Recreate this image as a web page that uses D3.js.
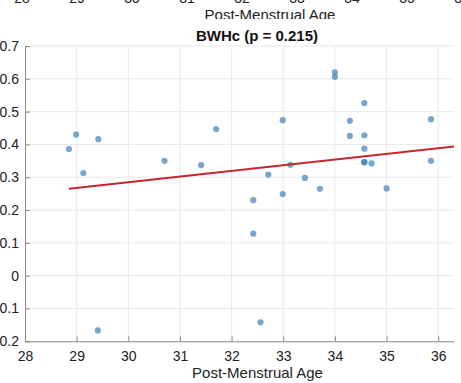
<!DOCTYPE html>
<html>
<head>
<meta charset="utf-8">
<script src="https://cdn.jsdelivr.net/npm/d3@7"></script>
<style>
  html, body { margin: 0; padding: 0; background: #fff; }
  svg { display: block; font-family: "Liberation Sans", Arial, Helvetica, sans-serif; }
</style>
</head>
<body>
<script>
// Post-menstrual age (weeks) and BWHc value for each subject
const ageValues = [
  28.85, 28.99, 29.13, 29.42, 29.41, 30.70, 31.41, 31.70,
  32.42, 32.42, 32.56, 32.71, 32.99, 32.99, 33.14, 33.42, 33.71,
  34.00, 34.00, 34.29, 34.29, 34.57, 34.57, 34.57, 34.57, 34.57, 34.71,
  35.00, 35.86, 35.86
];
const bwhcValues = [
  0.386, 0.430, 0.313, 0.416, -0.167, 0.350, 0.337, 0.447,
  0.230, 0.128, -0.142, 0.308, 0.474, 0.249, 0.338, 0.298, 0.265,
  0.620, 0.606, 0.472, 0.426, 0.526, 0.428, 0.387, 0.346, 0.346, 0.342,
  0.266, 0.477, 0.350
];

// Least-squares fit line endpoints
const fitAge = [28.85, 37];
const fitBwhc = [0.265, 0.406];

const xTicks = [28, 29, 30, 31, 32, 33, 34, 35, 36];
const yTicks = [-0.2, -0.1, 0, 0.1, 0.2, 0.3, 0.4, 0.5, 0.6, 0.7];
const chartTitle = "BWHc (p = 0.215)";
const xLabel = "Post-Menstrual Age";

const W = 461, H = 383;
const svg = d3.select("body").append("svg").attr("width", W).attr("height", H);

// ---- bottom strip of the panel above (its x tick labels and axis label) ----
svg.append("clipPath").attr("id", "upperClip")
  .append("rect").attr("x", 0).attr("y", 0).attr("width", W).attr("height", 19);
const upper = svg.append("g").attr("clip-path", "url(#upperClip)");
const xUpper = d3.scaleLinear().domain([28, 37]).range([22, 517]);
upper.selectAll("text.tick").data(xTicks).join("text")
  .attr("class", "tick")
  .attr("x", d => xUpper(d)).attr("y", 3)
  .attr("text-anchor", "middle")
  .attr("font-size", 14).attr("fill", "#222")
  .text(d => d);
upper.append("text")
  .attr("x", 270).attr("y", 19.5)
  .attr("text-anchor", "middle")
  .attr("font-size", 15).attr("fill", "#222")
  .text(xLabel);

// ---- main panel ----
const plotLeft = 25, plotTop = 46, plotBottom = 341.3, plotRight = 454;
const x = d3.scaleLinear().domain([28, 37]).range([plotLeft, plotLeft + 9 * 51.65]);
const y = d3.scaleLinear().domain([-0.2, 0.7]).range([plotBottom, plotTop]);

svg.append("clipPath").attr("id", "plotClip")
  .append("rect").attr("x", plotLeft).attr("y", plotTop - 2)
  .attr("width", plotRight - plotLeft).attr("height", plotBottom - plotTop + 4);

const plot = svg.append("g").attr("clip-path", "url(#plotClip)");

// grid
plot.selectAll("line.vgrid").data(xTicks).join("line")
  .attr("class", "vgrid")
  .attr("x1", d => x(d)).attr("x2", d => x(d))
  .attr("y1", plotTop).attr("y2", plotBottom)
  .attr("stroke", "#e9e9e9").attr("stroke-width", 1);
plot.selectAll("line.hgrid").data(yTicks).join("line")
  .attr("class", "hgrid")
  .attr("x1", plotLeft).attr("x2", plotRight)
  .attr("y1", d => y(d)).attr("y2", d => y(d))
  .attr("stroke", "#e9e9e9").attr("stroke-width", 1);

// scatter points
const pts = ageValues.map((a, i) => ({ age: a, v: bwhcValues[i] }));
plot.selectAll("circle").data(pts).join("circle")
  .attr("cx", d => x(d.age)).attr("cy", d => y(d.v))
  .attr("r", 3.1)
  .attr("fill", "#3f7fb6").attr("fill-opacity", 0.7);

// fit line
const line = d3.line().x(d => x(d[0])).y(d => y(d[1]));
plot.append("path")
  .attr("d", line(fitAge.map((a, i) => [a, fitBwhc[i]])))
  .attr("fill", "none").attr("stroke", "#c4262b").attr("stroke-width", 2);

// axes (ticks point inward)
const xAxis = d3.axisBottom(x).tickValues(xTicks).tickSize(-5).tickSizeOuter(0).tickPadding(10);
const yAxis = d3.axisLeft(y).tickValues(yTicks).tickSize(-5).tickSizeOuter(0).tickPadding(6)
  .tickFormat(d => d === 0 ? "0" : d3.format(".1f")(d));

const gx = svg.append("g").attr("transform", `translate(0,${plotBottom})`).call(xAxis);
gx.select(".domain").attr("d", `M${plotLeft},0.5H${plotRight}`);
const gy = svg.append("g").attr("transform", `translate(${plotLeft},0)`).call(yAxis);

[gx, gy].forEach(g => {
  g.select(".domain").attr("stroke", "#8a8a8a");
  g.selectAll(".tick line").attr("stroke", "#8a8a8a");
  g.selectAll(".tick text").attr("font-size", 14).attr("fill", "#222")
    .attr("font-family", "\"Liberation Sans\", Arial, sans-serif");
});
gx.selectAll(".tick text").attr("dy", "0.71em");

// title and x label
svg.append("text")
  .attr("x", 257).attr("y", 41)
  .attr("text-anchor", "middle")
  .attr("font-size", 15).attr("font-weight", "bold").attr("fill", "#111")
  .text(chartTitle);
svg.append("text")
  .attr("x", 257.5).attr("y", 378)
  .attr("text-anchor", "middle")
  .attr("font-size", 15).attr("fill", "#222")
  .text(xLabel);
</script>
</body>
</html>
